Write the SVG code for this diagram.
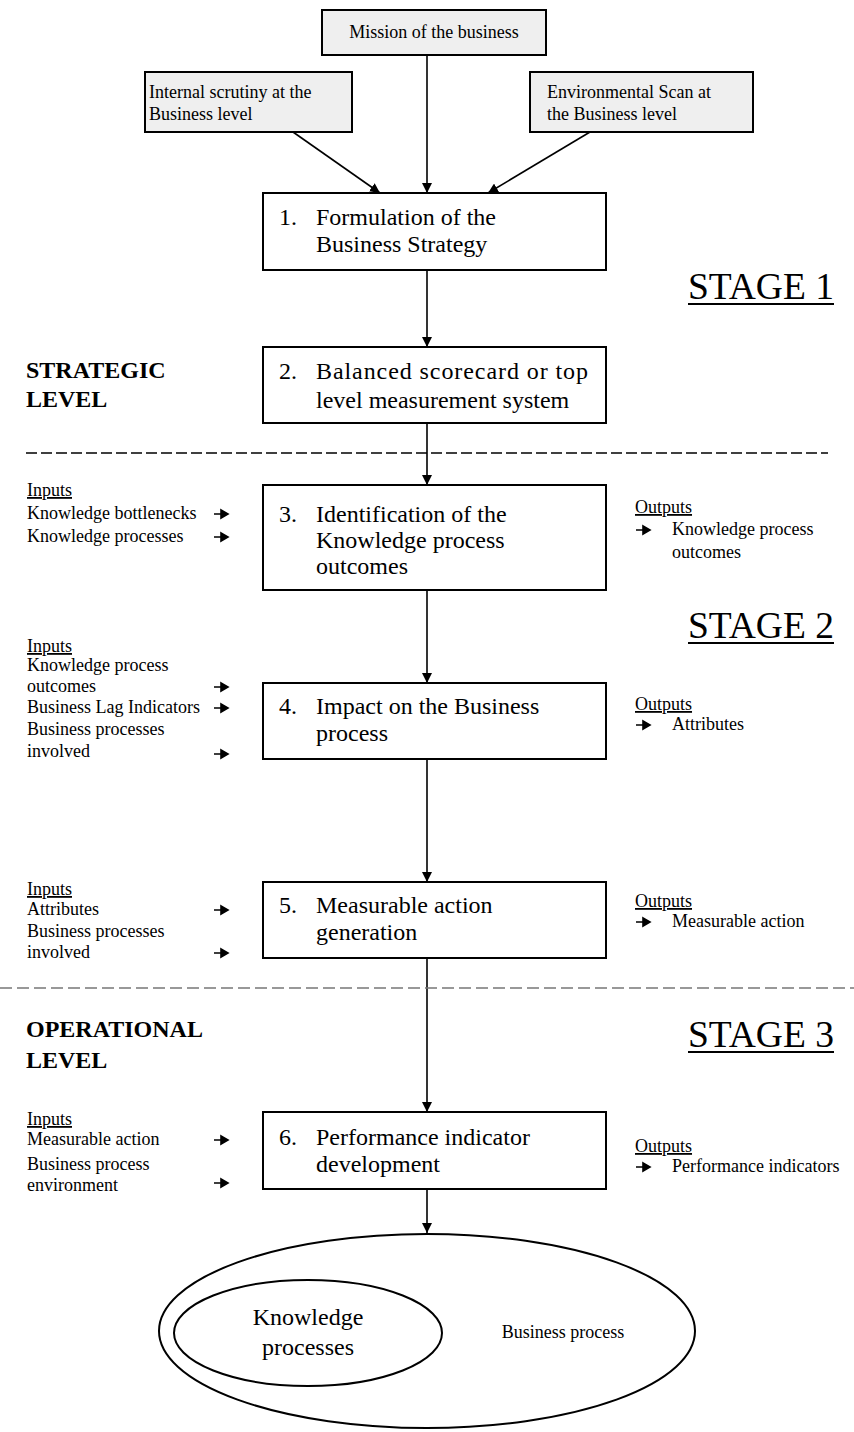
<svg xmlns="http://www.w3.org/2000/svg" width="854" height="1432" viewBox="0 0 854 1432">
<style>
text{font-family:"Liberation Serif","Times New Roman",serif;fill:#000}
.box{fill:#fff;stroke:#000;stroke-width:2}
.gbox{fill:#efefef;stroke:#000;stroke-width:2}
.bt{font-size:24px}
.sm{font-size:18px}
.lvl{font-size:24px;font-weight:bold}
.stage{font-size:38px}
.ul{text-decoration:underline}
.conn{stroke:#000;stroke-width:1.6;fill:none}
.ell{fill:none;stroke:#000;stroke-width:2}
</style>
<defs>
<marker id="ah" viewBox="0 0 10 10" refX="10" refY="5" markerWidth="10" markerHeight="10" markerUnits="userSpaceOnUse" orient="auto">
<path d="M0,0 L10,5 L0,10 z" fill="#000"/>
</marker>
<path id="sa" d="M0,0 H9 M7,-4 L14,0 L7,4 z" stroke="#000" stroke-width="1.6" fill="#000"/>
</defs>

<g id="connectors">
<line class="conn" x1="427" y1="55" x2="427" y2="193" marker-end="url(#ah)"/>
<line class="conn" x1="293" y1="132" x2="380" y2="193" marker-end="url(#ah)"/>
<line class="conn" x1="590" y1="132" x2="488" y2="193" marker-end="url(#ah)"/>
<line class="conn" x1="427" y1="270" x2="427" y2="347" marker-end="url(#ah)"/>
<line class="conn" x1="427" y1="423" x2="427" y2="485" marker-end="url(#ah)"/>
<line class="conn" x1="427" y1="590" x2="427" y2="683" marker-end="url(#ah)"/>
<line class="conn" x1="427" y1="759" x2="427" y2="882" marker-end="url(#ah)"/>
<line class="conn" x1="427" y1="958" x2="427" y2="1112" marker-end="url(#ah)"/>
<line class="conn" x1="427" y1="1189" x2="427" y2="1233" marker-end="url(#ah)"/>
</g>

<g id="dividers">
<line x1="26" y1="453" x2="828" y2="453" stroke="#000" stroke-width="1.5" stroke-dasharray="11,4"/>
<line x1="0" y1="988" x2="854" y2="988" stroke="#777" stroke-width="1.5" stroke-dasharray="12,5"/>
</g>

<g id="mission">
<rect class="gbox" x="322" y="10" width="224" height="45"/>
<text class="sm" x="434" y="38" text-anchor="middle">Mission of the business</text>
</g>
<g id="internal">
<rect class="gbox" x="145" y="72" width="207" height="60"/>
<text class="sm" x="149" y="98">Internal scrutiny at the</text>
<text class="sm" x="149" y="120">Business level</text>
</g>
<g id="environmental">
<rect class="gbox" x="530" y="72" width="223" height="60"/>
<text class="sm" x="547" y="98">Environmental Scan at</text>
<text class="sm" x="547" y="120">the Business level</text>
</g>

<g id="step1">
<rect class="box" x="263" y="193" width="343" height="77"/>
<text class="bt" x="279" y="225">1.</text>
<text class="bt" x="316" y="225">Formulation of the</text>
<text class="bt" x="316" y="252">Business Strategy</text>
</g>
<g id="stage1">
<text class="stage" x="688" y="299" textLength="146" lengthAdjust="spacingAndGlyphs">STAGE 1</text>
<line x1="688" y1="304" x2="834" y2="304" stroke="#000" stroke-width="2"/>
</g>
<g id="strategic">
<text class="lvl" x="26" y="378">STRATEGIC</text>
<text class="lvl" x="26" y="407">LEVEL</text>
</g>
<g id="step2">
<rect class="box" x="263" y="347" width="343" height="76"/>
<text class="bt" x="279" y="379">2.</text>
<text class="bt" x="316" y="379" textLength="272" lengthAdjust="spacing">Balanced scorecard or top</text>
<text class="bt" x="316" y="408">level measurement system</text>
</g>

<g id="step3">
<rect class="box" x="263" y="485" width="343" height="105"/>
<text class="bt" x="279" y="522">3.</text>
<text class="bt" x="316" y="522">Identification of the</text>
<text class="bt" x="316" y="548">Knowledge process</text>
<text class="bt" x="316" y="574">outcomes</text>
</g>
<g id="inputs3">
<text class="sm ul" x="27" y="496">Inputs</text>
<text class="sm" x="27" y="519">Knowledge bottlenecks</text>
<text class="sm" x="27" y="542">Knowledge processes</text>
<use href="#sa" x="214" y="514"/>
<use href="#sa" x="214" y="537"/>
</g>
<g id="outputs3">
<text class="sm ul" x="635" y="513">Outputs</text>
<use href="#sa" x="636" y="530"/>
<text class="sm" x="672" y="535">Knowledge process</text>
<text class="sm" x="672" y="558">outcomes</text>
</g>

<g id="stage2">
<text class="stage" x="688" y="638" textLength="146" lengthAdjust="spacingAndGlyphs">STAGE 2</text>
<line x1="688" y1="643" x2="834" y2="643" stroke="#000" stroke-width="2"/>
</g>

<g id="step4">
<rect class="box" x="263" y="683" width="343" height="76"/>
<text class="bt" x="279" y="714">4.</text>
<text class="bt" x="316" y="714">Impact on the Business</text>
<text class="bt" x="316" y="741">process</text>
</g>
<g id="inputs4">
<text class="sm ul" x="27" y="652">Inputs</text>
<text class="sm" x="27" y="671">Knowledge process</text>
<text class="sm" x="27" y="692">outcomes</text>
<text class="sm" x="27" y="713">Business Lag Indicators</text>
<text class="sm" x="27" y="735">Business processes</text>
<text class="sm" x="27" y="757">involved</text>
<use href="#sa" x="214" y="687"/>
<use href="#sa" x="214" y="708"/>
<use href="#sa" x="214" y="754"/>
</g>
<g id="outputs4">
<text class="sm ul" x="635" y="710">Outputs</text>
<use href="#sa" x="636" y="725"/>
<text class="sm" x="672" y="730">Attributes</text>
</g>

<g id="step5">
<rect class="box" x="263" y="882" width="343" height="76"/>
<text class="bt" x="279" y="913">5.</text>
<text class="bt" x="316" y="913">Measurable action</text>
<text class="bt" x="316" y="940">generation</text>
</g>
<g id="inputs5">
<text class="sm ul" x="27" y="895">Inputs</text>
<text class="sm" x="27" y="915">Attributes</text>
<text class="sm" x="27" y="937">Business processes</text>
<text class="sm" x="27" y="958">involved</text>
<use href="#sa" x="214" y="910"/>
<use href="#sa" x="214" y="953"/>
</g>
<g id="outputs5">
<text class="sm ul" x="635" y="907">Outputs</text>
<use href="#sa" x="636" y="922"/>
<text class="sm" x="672" y="927">Measurable action</text>
</g>

<g id="operational">
<text class="lvl" x="26" y="1037">OPERATIONAL</text>
<text class="lvl" x="26" y="1068">LEVEL</text>
</g>
<g id="stage3">
<text class="stage" x="688" y="1047" textLength="146" lengthAdjust="spacingAndGlyphs">STAGE 3</text>
<line x1="688" y1="1052" x2="834" y2="1052" stroke="#000" stroke-width="2"/>
</g>

<g id="step6">
<rect class="box" x="263" y="1112" width="343" height="77"/>
<text class="bt" x="279" y="1145">6.</text>
<text class="bt" x="316" y="1145">Performance indicator</text>
<text class="bt" x="316" y="1172">development</text>
</g>
<g id="inputs6">
<text class="sm ul" x="27" y="1125">Inputs</text>
<text class="sm" x="27" y="1145">Measurable action</text>
<text class="sm" x="27" y="1170">Business process</text>
<text class="sm" x="27" y="1191">environment</text>
<use href="#sa" x="214" y="1140"/>
<use href="#sa" x="214" y="1183"/>
</g>
<g id="outputs6">
<text class="sm ul" x="635" y="1152">Outputs</text>
<use href="#sa" x="636" y="1167"/>
<text class="sm" x="672" y="1172">Performance indicators</text>
</g>

<g id="business-process">
<ellipse class="ell" cx="427" cy="1331" rx="268" ry="97"/>
<text class="sm" x="563" y="1338" text-anchor="middle">Business process</text>
</g>
<g id="knowledge-processes">
<ellipse class="ell" cx="308" cy="1333" rx="134" ry="53"/>
<text class="bt" x="308" y="1325" text-anchor="middle">Knowledge</text>
<text class="bt" x="308" y="1355" text-anchor="middle">processes</text>
</g>
</svg>
